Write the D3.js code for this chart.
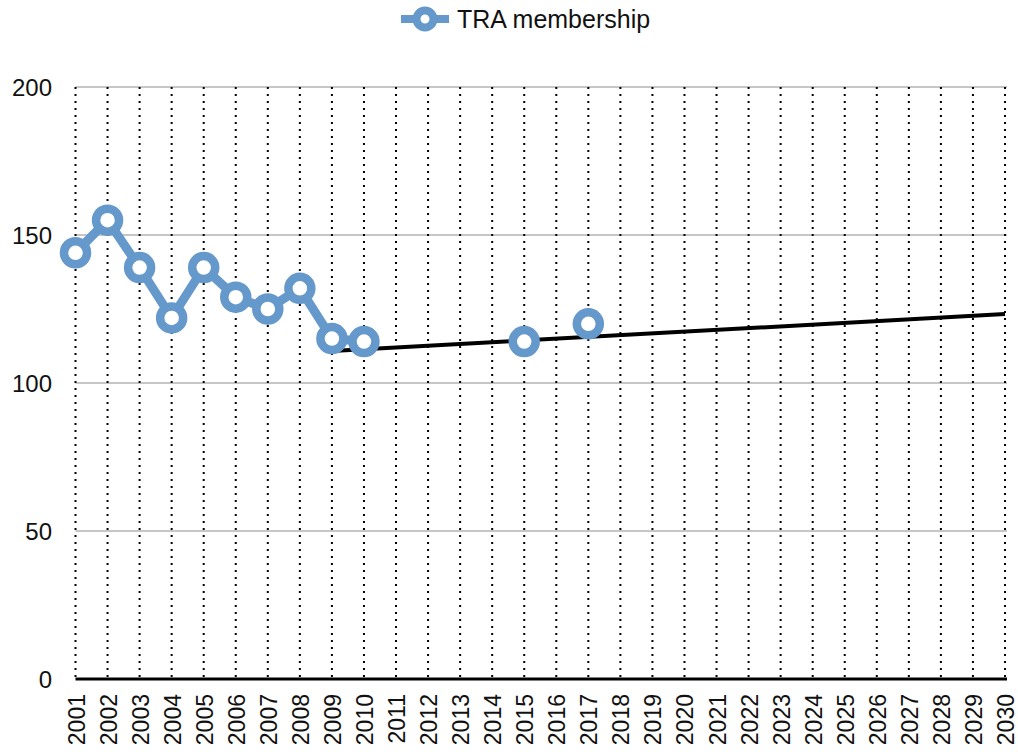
<!DOCTYPE html>
<html>
<head>
<meta charset="utf-8">
<script src="https://cdn.jsdelivr.net/npm/d3@7"></script>
<style>
  body { margin: 0; background: #fff; }
  text { font-family: "Liberation Sans", Arial, Helvetica, sans-serif; fill: #111; }
</style>
</head>
<body>
<svg width="1018" height="754"></svg>
<script>
// categories on the x axis
var years = d3.range(2001, 2031).map(String);
// membership values (null = no data)
var membership = [144, 155, 139, 122, 139, 129, 125, 132, 115, 114,
                  null, null, null, null, 114, null, 120, null, null, null,
                  null, null, null, null, null, null, null, null, null, null];
// linear trend line end points
var trendYears = ["2009", "2030"];
var trendValues = [110.8, 123.3];
var yTicks = [0, 50, 100, 150, 200];

var svg = d3.select("svg");
var margin = {left: 75.5, right: 13, top: 87, bottom: 75};
var width = 1018, height = 754;

var x = d3.scalePoint()
  .domain(years)
  .range([margin.left, width - margin.right]);

var y = d3.scaleLinear()
  .domain([0, 200])
  .range([height - margin.bottom, margin.top]);

var blue = "#6598cb";

// horizontal grid
svg.append("g")
  .selectAll("line")
  .data(yTicks.filter(function(d) { return d > 0; }))
  .enter().append("line")
  .attr("x1", margin.left).attr("x2", width - margin.right + 2)
  .attr("y1", function(d) { return y(d); })
  .attr("y2", function(d) { return y(d); })
  .attr("stroke", "#c6c6c6")
  .attr("stroke-width", 2);

// vertical dotted grid
svg.append("g")
  .selectAll("line")
  .data(years)
  .enter().append("line")
  .attr("x1", function(d) { return x(d); })
  .attr("x2", function(d) { return x(d); })
  .attr("y1", y(200))
  .attr("y2", y(0))
  .attr("stroke", "#000")
  .attr("stroke-width", 2)
  .attr("stroke-dasharray", "2,5");

// x axis line
svg.append("line")
  .attr("x1", margin.left).attr("x2", width - margin.right + 2)
  .attr("y1", y(0)).attr("y2", y(0))
  .attr("stroke", "#000")
  .attr("stroke-width", 3);

// y labels
svg.append("g")
  .selectAll("text")
  .data(yTicks)
  .enter().append("text")
  .attr("x", 52)
  .attr("y", function(d) { return y(d) + 9; })
  .attr("text-anchor", "end")
  .attr("font-size", 24)
  .text(function(d) { return d; });

// x labels, rotated
svg.append("g")
  .selectAll("text")
  .data(years)
  .enter().append("text")
  .attr("transform", function(d) { return "translate(" + (x(d) + 9) + "," + (y(0) + 15) + ") rotate(-90)"; })
  .attr("text-anchor", "end")
  .attr("font-size", 23)
  .text(function(d) { return d; });

// series
var pts = years.map(function(d, i) { return {year: d, value: membership[i]}; });

var line = d3.line()
  .defined(function(d) { return d.value != null; })
  .x(function(d) { return x(d.year); })
  .y(function(d) { return y(d.value); });

svg.append("path")
  .datum(pts)
  .attr("fill", "none")
  .attr("stroke", blue)
  .attr("stroke-width", 9)
  .attr("stroke-linejoin", "round")
  .attr("d", line);

// trend line
svg.append("line")
  .attr("x1", x(trendYears[0])).attr("y1", y(trendValues[0]))
  .attr("x2", x(trendYears[1])).attr("y2", y(trendValues[1]))
  .attr("stroke", "#000")
  .attr("stroke-width", 4);

svg.append("g")
  .selectAll("circle")
  .data(pts.filter(function(d) { return d.value != null; }))
  .enter().append("circle")
  .attr("cx", function(d) { return x(d.year); })
  .attr("cy", function(d) { return y(d.value); })
  .attr("r", 11.5)
  .attr("fill", "#fff")
  .attr("stroke", blue)
  .attr("stroke-width", 8.5);

// legend
var lg = svg.append("g").attr("transform", "translate(401,19)");
lg.append("line")
  .attr("x1", 0).attr("x2", 48)
  .attr("stroke", blue).attr("stroke-width", 8);
lg.append("circle")
  .attr("cx", 24).attr("r", 8.5)
  .attr("fill", "#fff").attr("stroke", blue).attr("stroke-width", 8);
lg.append("text")
  .attr("x", 56).attr("y", 9)
  .attr("font-size", 25)
  .text("TRA membership");
</script>
</body>
</html>
